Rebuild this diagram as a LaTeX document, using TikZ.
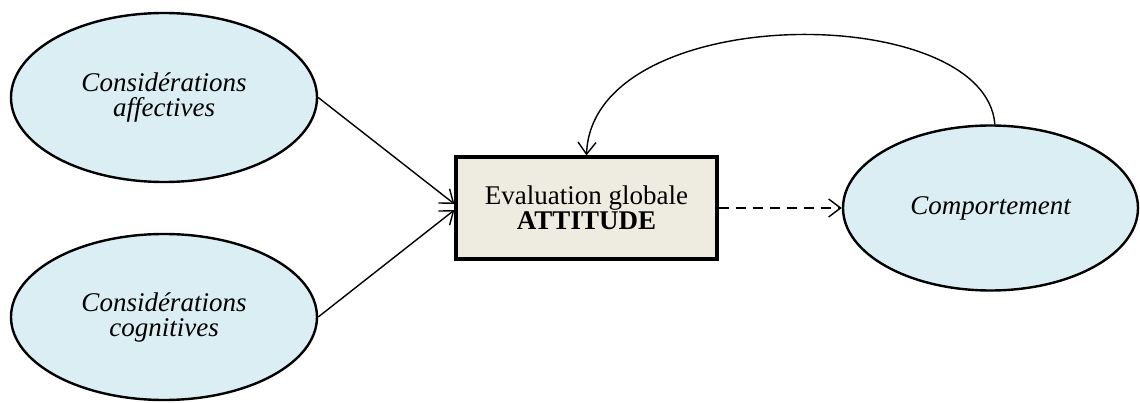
\documentclass[tikz,border=0pt]{standalone}
\usepackage{fontspec}
\setmainfont{Liberation Serif}
\usetikzlibrary{shapes.geometric,arrows.meta}
\definecolor{ellfill}{HTML}{DAEEF3}
\definecolor{boxfill}{HTML}{EEECE1}
\begin{document}
\begin{tikzpicture}[x=1pt,y=-1pt,
  ell/.style={ellipse,draw=black,line width=2.4pt,fill=ellfill,inner sep=0pt,
    align=center,font=\fontsize{27}{25}\selectfont\itshape},
  attbox/.style={rectangle,draw=black,line width=3.2pt,fill=boxfill,inner sep=0pt,
    align=center,font=\fontsize{27}{25}\selectfont},
  conn/.style={line width=1.4pt,-{Straight Barb[length=12pt,width=18pt,line width=1.4pt]}}]
\useasboundingbox (0,0) rectangle (1140,403);
\node[ell,minimum width=306pt,minimum height=169pt] (e1) at (164,97.5) {Considérations\\affectives};
\node[ell,minimum width=306pt,minimum height=166pt] (e2) at (164,317) {Considérations\\cognitives};
\node[attbox,minimum width=261pt,minimum height=102pt] (box) at (586.5,208) {Evaluation globale\\\textbf{ATTITUDE}};
\node[ell,minimum width=295pt,minimum height=165pt] (e3) at (990.5,208) {Comportement};
\draw[conn] (e1.east) -- ([yshift=4pt]box.west);
\draw[conn] (e2.east) -- ([yshift=-2pt]box.west);
\draw[conn,line width=2pt,dash pattern=on 10pt off 7pt] (box.east) -- (e3.west);
\draw[conn] (e3.87) .. controls (985,0) and (592,0) .. (box.north);
\end{tikzpicture}
\end{document}
